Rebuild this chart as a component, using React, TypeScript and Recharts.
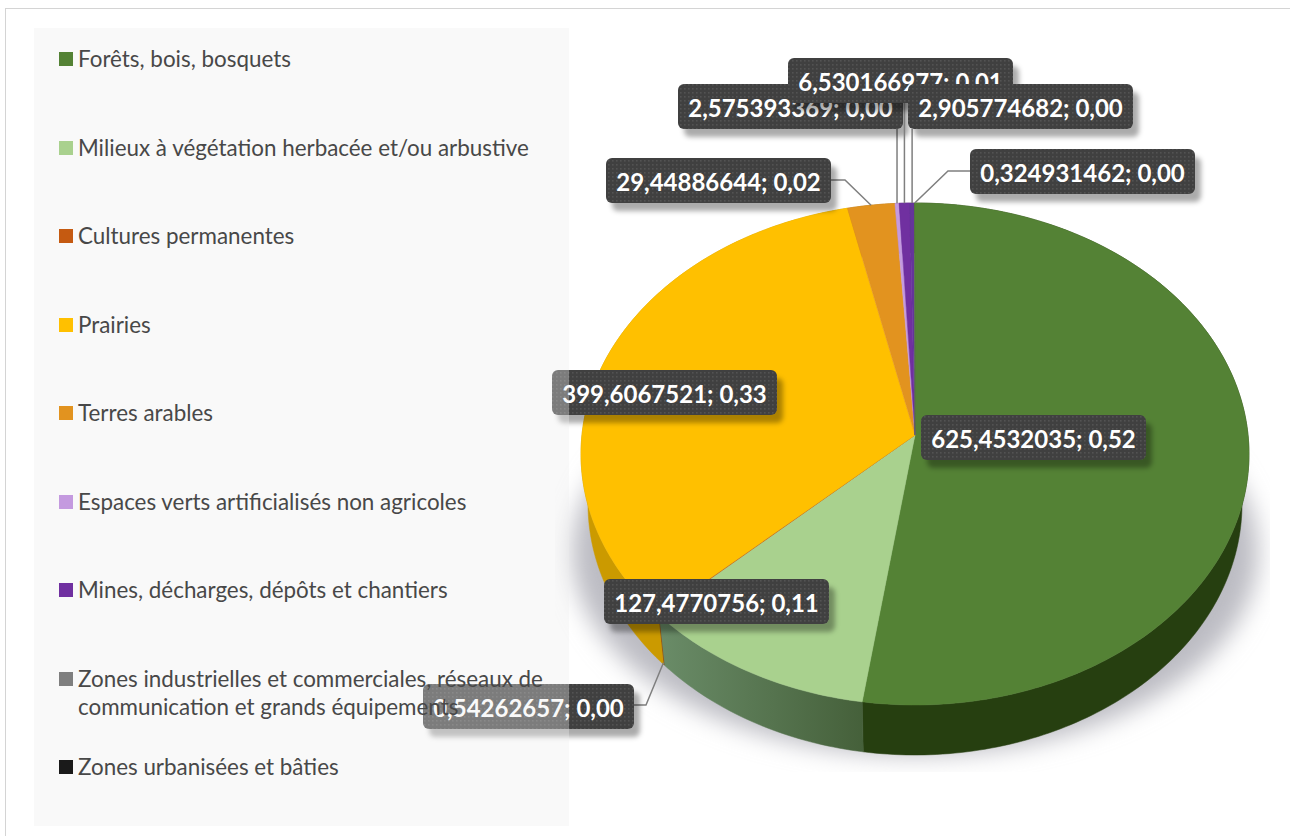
import { Legend, Pie, PieChart } from "recharts"

const names = [
  "Forêts, bois, bosquets",
  "Milieux à végétation herbacée et/ou arbustive",
  "Cultures permanentes",
  "Prairies",
  "Terres arables",
  "Espaces verts artificialisés non agricoles",
  "Mines, décharges, dépôts et chantiers",
  "Zones industrielles et commerciales, réseaux de communication et grands équipements",
  "Zones urbanisées et bâties",
]
const values = [625.4532035, 127.4770756, 0.54262657, 399.6067521, 29.44886644, 2.575393369, 6.530166977, 2.905774682, 0.324931462]
const colors = ["#548235", "#A9D18E", "#C55A11", "#FFC000", "#E2931F", "#C49ADF", "#7030A0", "#7F7F7F", "#1A1A1A"]
// the two last slivers don't read as grey/black on the face, they melt into the purple and the green
const faceColors = ["#548235", "#A9D18E", "#C55A11", "#FFC000", "#E2931F", "#C49ADF", "#7030A0", "#65359A", "#548235"]
const wallColors = ["#263F10", "url(#wallMilieux)", "#8A3E0B", "#CB9A00", "#A56D14", "#8A6AA0", "#4A2070", "#555555", "#111111"]

const total = values.reduce((a, b) => a + b, 0)
const slices = names.map((name, i) => ({ name, value: values[i], fill: colors[i] }))
const shadowSlice = [{ name: "ombre", value: total }]

// placement of the callouts: box left/top/width, optional elbow, anchor shift
const callouts = [
  { x: 921, y: 415, w: 225 },
  { x: 604, y: 579, w: 225 },
  { x: 423, y: 684, w: 211, from: [634, 705], elbow: [646, 705], drop: 48, shift: 5 },
  { x: 552, y: 370, w: 225 },
  { x: 606, y: 158, w: 225, from: [831, 180], elbow: [845, 180] },
  { x: 678, y: 84, w: 225, up: 128 },
  { x: 788, y: 58, w: 225, up: 103 },
  { x: 908, y: 84, w: 225, up: 129 },
  { x: 970, y: 149, w: 225, from: [970, 171], elbow: [948, 171] },
]

const CX = 915
const CY = 454
const RX = 334
const RY = 251
const DEPTH = 50
const WALL_RX = 327
const APEX = 19 / RY // the apex sits above the ellipse centre (perspective)

function onEllipse(deg: number, cx: number, cy: number, rx: number, ry: number) {
  const a = (deg * Math.PI) / 180
  const X = Math.cos(a)
  const Y = Math.sin(a)
  const d = 1 + APEX * Y
  return [cx + (rx * X * Math.sqrt(1 - APEX * APEX)) / d, cy - (ry * (Y + APEX)) / d]
}

function arc(start: number, end: number, cx: number, cy: number, rx = RX, ry = RY) {
  const steps = Math.max(2, Math.ceil(Math.abs(end - start)))
  const pts = []
  for (let i = 0; i <= steps; i++) {
    pts.push(onEllipse(start + ((end - start) * i) / steps, cx, cy, rx, ry))
  }
  return pts
}

const toPath = (pts: number[][]) => "M" + pts.map((p) => p[0].toFixed(2) + " " + p[1].toFixed(2)).join("L") + "Z"

function TopFace(props: any) {
  const { cx, cy, startAngle, endAngle, name } = props
  const fill = faceColors[names.indexOf(name)]
  const pts = [[cx, cy - RY * APEX], ...arc(startAngle, endAngle, cx, cy)]
  return <path d={toPath(pts)} fill={fill} stroke={fill} strokeWidth={0.5} />
}

function Wall(props: any) {
  const { cx, cy, startAngle, endAngle, name } = props
  const i = names.indexOf(name)
  const pts = [...arc(startAngle, endAngle, cx, cy), ...arc(endAngle, startAngle, cx, cy + DEPTH, WALL_RX)]
  return (
    <g>
      {i === 1 && (
        <defs>
          <linearGradient id="wallMilieux" x1="0" y1="0" x2="1" y2="0">
            <stop offset="0" stopColor="#6A8C68" />
            <stop offset="1" stopColor="#45603A" />
          </linearGradient>
        </defs>
      )}
      <path d={toPath(pts)} fill={wallColors[i]} stroke={wallColors[i]} strokeWidth={0.5} />
    </g>
  )
}

function Shadow(props: any) {
  const { cx, startAngle, endAngle } = props
  return (
    <g clipPath="url(#shadowClip)">
      <defs>
        <clipPath id="shadowClip">
          <rect x={555} y={440} width={715} height={332} />
        </clipPath>
        <filter id="shadowBlur" x="-10%" y="-10%" width="120%" height="120%">
          <feGaussianBlur stdDeviation={12} />
        </filter>
      </defs>
      <path
        d={toPath(arc(startAngle, endAngle, cx, 552, 343, 203))}
        fill="#BCBCC3"
        filter="url(#shadowBlur)"
      />
    </g>
  )
}

function Callout(props: any) {
  const { index, midAngle } = props
  const c: any = callouts[index]
  const [ax, ay] = onEllipse(midAngle, CX, CY, RX, RY)
  const text =
    String(values[index]).replace(".", ",") + "; " + (values[index] / total).toFixed(2).replace(".", ",")
  let leader = null
  if (c.up) {
    leader = [[ax, ay], [ax, c.up]]
  } else if (c.from) {
    leader = [[ax + (c.shift || 0), ay + (c.drop || 0)], c.elbow, c.from]
  }
  return (
    <g>
      <defs>
        <pattern id={"dots" + index} width={4} height={4} patternUnits="userSpaceOnUse">
          <rect width={4} height={4} fill="#404040" />
          <rect width={1.6} height={1.6} fill="#535353" />
        </pattern>
        <filter id={"boxShadow" + index} x="-10%" y="-20%" width="125%" height="160%">
          <feDropShadow dx={6} dy={8} stdDeviation={2.5} floodColor="#000" floodOpacity={0.33} />
        </filter>
      </defs>
      {leader && (
        <polyline points={leader.map((p) => p.join(",")).join(" ")} fill="none" stroke="#7F7F7F" strokeWidth={1.5} />
      )}
      <rect x={c.x} y={c.y} width={c.w} height={45} rx={6} fill={"url(#dots" + index + ")"} filter={"url(#boxShadow" + index + ")"} />
      <text
        x={c.x + c.w / 2}
        y={c.y + 23}
        textAnchor="middle"
        dominantBaseline="central"
        fill="#FFFFFF"
        fontFamily="Lato"
        fontWeight={700}
        fontSize={24}
      >
        {text}
      </text>
    </g>
  )
}

function LegendPanel(props: any) {
  // the two helper pies are legendType none, only the top face is listed
  const items = props.payload
    .filter((p: any) => p.type !== "none")
    .sort((a: any, b: any) => names.indexOf(a.value) - names.indexOf(b.value))
  return (
    <div style={{ width: 535, height: 798, background: "rgba(238,238,238,0.35)", fontFamily: "Lato", fontSize: 22.4, color: "#484848" }}>
      {items.map((item: any, i: number) => (
        <div key={i} style={{ position: "absolute", left: 25, top: 17 + i * 88.5, display: "flex", lineHeight: "28px" }}>
          <span style={{ width: 14, height: 14, marginTop: 7, marginRight: 5, background: item.color, flex: "none" }} />
          <span style={{ width: 472 }}>{item.value}</span>
        </div>
      ))}
    </div>
  )
}

export default function App() {
  return (
    <div style={{ position: "absolute", left: 0, top: 0, width: 1290, height: 836, overflow: "hidden", background: "#fff" }}>
      <div style={{ position: "absolute", left: 5, top: 8, width: 1290, height: 840, border: "1px solid #D4D4D4" }} />
      <PieChart width={1290} height={836} margin={{ top: 0, right: 0, bottom: 0, left: 0 }}>
        <Pie
          data={shadowSlice}
          dataKey="value"
          nameKey="name"
          cx={CX}
          cy={CY}
          outerRadius={RX}
          startAngle={90}
          endAngle={-270}
          legendType="none"
          shape={Shadow}
          isAnimationActive={false}
        />
        <Pie
          data={slices}
          dataKey="value"
          nameKey="name"
          cx={CX}
          cy={CY}
          outerRadius={RX}
          startAngle={90}
          endAngle={-270}
          legendType="none"
          shape={Wall}
          isAnimationActive={false}
        />
        <Pie
          data={slices}
          dataKey="value"
          nameKey="name"
          cx={CX}
          cy={CY}
          outerRadius={RX}
          startAngle={90}
          endAngle={-270}
          shape={TopFace}
          label={Callout}
          labelLine={false}
          isAnimationActive={false}
        />
        <Legend
          layout="vertical"
          align="center"
          verticalAlign="middle"
          content={LegendPanel}
          wrapperStyle={{ left: 34, top: 28, width: 535, height: 798 }}
        />
      </PieChart>
    </div>
  )
}
